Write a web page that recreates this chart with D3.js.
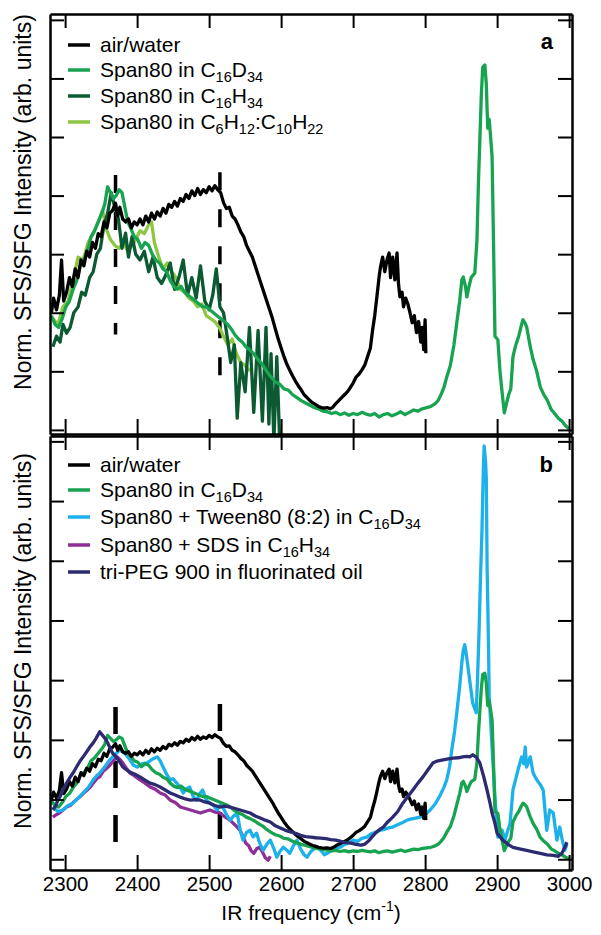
<!DOCTYPE html>
<html>
<head>
<meta charset="utf-8">
<script src="https://cdn.jsdelivr.net/npm/d3@7"></script>
<style>
  body { margin: 0; background: #fff; }
  svg { display: block; font-family: "Liberation Sans", Arial, sans-serif; }
</style>
</head>
<body>
<svg id="chart" width="601" height="935"></svg>
<script>
// Shared x ticks (cm-1), unlabeled y ticks per panel
const xTicks = [2300, 2400, 2500, 2600, 2700, 2800, 2900, 3000];
const yTicksA = [0, 1, 2, 3, 4, 5, 6, 7];
const yTicksB = [0, 2, 4, 6, 8, 10, 12, 14];

// Spectra as [frequency, normalized intensity]
const airWater = [
  [2281, 2.0], [2284, 2.25], [2288, 2.05], [2292, 2.3], [2295, 2.9], [2298, 2.2], [2302, 2.35], [2306, 2.6],
  [2310, 2.45], [2314, 2.75], [2318, 2.6], [2322, 2.9], [2326, 2.8], [2330, 3.05], [2334, 2.95], [2338, 3.2],
  [2342, 3.1], [2346, 3.35], [2350, 3.3], [2354, 3.55], [2358, 3.45], [2362, 3.7], [2366, 3.75], [2370, 3.87],
  [2373, 3.65], [2376, 3.8], [2380, 3.6], [2384, 3.55], [2388, 3.6], [2392, 3.45], [2396, 3.55], [2400, 3.5],
  [2404, 3.6], [2408, 3.5], [2412, 3.65], [2416, 3.55], [2420, 3.7], [2424, 3.6], [2428, 3.72], [2432, 3.65],
  [2436, 3.78], [2440, 3.7], [2444, 3.85], [2448, 3.8], [2452, 3.9], [2456, 3.82], [2460, 3.95], [2464, 3.9],
  [2468, 4.02], [2472, 3.95], [2476, 4.08], [2480, 4.0], [2484, 4.12], [2488, 4.02], [2492, 4.1], [2496, 4.05],
  [2500, 4.15], [2504, 4.08], [2508, 4.17], [2512, 4.1], [2516, 4.05], [2520, 3.88], [2524, 3.78], [2528, 3.8],
  [2532, 3.65], [2536, 3.6], [2540, 3.5], [2544, 3.38], [2548, 3.3], [2552, 3.15], [2556, 3.05], [2560, 2.95],
  [2564, 2.8], [2568, 2.65], [2572, 2.5], [2576, 2.35], [2580, 2.2], [2584, 2.05], [2588, 1.9], [2592, 1.72],
  [2596, 1.55], [2600, 1.4], [2604, 1.25], [2608, 1.12], [2612, 1.02], [2616, 0.92], [2620, 0.83], [2624, 0.75],
  [2628, 0.68], [2632, 0.6], [2636, 0.55], [2640, 0.5], [2644, 0.46], [2648, 0.43], [2652, 0.4], [2656, 0.38],
  [2660, 0.37], [2664, 0.38], [2668, 0.36], [2672, 0.39], [2676, 0.45], [2680, 0.5], [2684, 0.55], [2688, 0.6],
  [2692, 0.65], [2696, 0.72], [2700, 0.8], [2704, 0.9], [2708, 0.95], [2712, 1.02], [2716, 1.1], [2720, 1.25],
  [2724, 1.4], [2727, 1.7], [2730, 1.95], [2733, 2.27], [2736, 2.6], [2738, 2.78], [2741, 2.95], [2744, 2.7],
  [2747, 2.9], [2750, 3.02], [2752, 2.6], [2755, 2.95], [2758, 2.56], [2761, 3.02], [2763, 2.5], [2765, 2.27],
  [2768, 2.35], [2770, 2.1], [2773, 2.25], [2776, 2.15], [2779, 2.0], [2782, 1.83], [2785, 1.95], [2788, 1.66],
  [2791, 1.85], [2794, 1.5], [2796, 1.75], [2798, 1.37], [2800, 1.88], [2801, 1.31]
];

const span80D = [
  [2281, 1.95], [2286, 1.8], [2291, 1.75], [2296, 1.9], [2301, 2.1], [2306, 2.2], [2311, 2.4], [2316, 2.55],
  [2321, 2.8], [2326, 2.9], [2331, 3.05], [2336, 3.3], [2341, 3.4], [2346, 3.55], [2351, 3.7], [2355, 3.85],
  [2359, 4.15], [2363, 4.05], [2367, 3.95], [2371, 4.0], [2375, 4.1], [2379, 4.05], [2383, 3.8], [2387, 3.55],
  [2391, 3.45], [2396, 3.3], [2401, 3.25], [2406, 3.1], [2411, 3.2], [2416, 3.15], [2421, 3.0], [2426, 2.9],
  [2431, 2.85], [2436, 2.75], [2441, 2.7], [2446, 2.55], [2451, 2.45], [2456, 2.4], [2461, 2.45], [2466, 2.35],
  [2471, 2.3], [2476, 2.25], [2481, 2.2], [2486, 2.15], [2491, 2.1], [2496, 2.1], [2501, 2.05], [2506, 2.0],
  [2511, 1.95], [2516, 1.9], [2521, 1.85], [2526, 1.8], [2531, 1.72], [2536, 1.62], [2541, 1.55], [2546, 1.5],
  [2551, 1.42], [2556, 1.37], [2562, 1.3], [2568, 1.2], [2574, 1.12], [2580, 1.0], [2586, 0.9], [2592, 0.82],
  [2598, 0.78], [2604, 0.7], [2610, 0.68], [2616, 0.6], [2622, 0.55], [2628, 0.5], [2634, 0.46], [2640, 0.42],
  [2646, 0.38], [2652, 0.36], [2658, 0.32], [2664, 0.31], [2670, 0.28], [2676, 0.3], [2682, 0.26], [2688, 0.29],
  [2694, 0.25], [2700, 0.28], [2706, 0.26], [2712, 0.3], [2718, 0.27], [2724, 0.25], [2730, 0.28], [2736, 0.22],
  [2742, 0.26], [2748, 0.28], [2754, 0.24], [2760, 0.27], [2766, 0.31], [2772, 0.26], [2778, 0.3], [2784, 0.34],
  [2790, 0.32], [2796, 0.36], [2802, 0.38], [2808, 0.4], [2814, 0.45], [2818, 0.5], [2822, 0.6], [2826, 0.72],
  [2830, 0.9], [2835, 1.1], [2840, 1.45], [2844, 1.83], [2848, 2.2], [2851, 2.56], [2853, 2.61], [2856, 2.45],
  [2858, 2.27], [2861, 2.45], [2864, 2.6], [2869, 2.68], [2872, 3.24], [2874, 4.2], [2876, 4.95], [2878, 5.7],
  [2880, 6.19], [2883, 6.23], [2885, 5.9], [2886, 5.5], [2887, 5.15], [2889, 5.3], [2891, 5.0], [2893, 4.66],
  [2895, 3.2], [2897, 1.6], [2901, 1.54], [2904, 1.0], [2907, 0.63], [2910, 0.29], [2913, 0.45], [2916, 0.6],
  [2919, 0.7], [2922, 1.25], [2926, 1.45], [2930, 1.6], [2934, 1.8], [2936, 1.88], [2939, 1.82], [2941, 1.76],
  [2946, 1.42], [2950, 1.2], [2955, 1.0], [2960, 0.73], [2965, 0.6], [2970, 0.5], [2975, 0.35], [2980, 0.28],
  [2985, 0.2], [2990, 0.15], [2995, 0.07], [3000, 0.02]
];

const span80H = [
  [2283, 1.42], [2288, 1.6], [2293, 1.5], [2297, 1.8], [2302, 1.65], [2307, 1.75], [2312, 2.0], [2318, 2.1],
  [2323, 2.35], [2328, 2.3], [2334, 2.6], [2339, 2.7], [2344, 3.0], [2349, 3.1], [2354, 3.5], [2359, 3.7],
  [2364, 4.05], [2369, 3.8], [2374, 3.6], [2379, 3.1], [2384, 3.36], [2388, 2.95], [2393, 3.3], [2398, 3.0],
  [2404, 2.9], [2410, 3.05], [2416, 2.7], [2422, 2.95], [2428, 2.6], [2434, 2.5], [2440, 2.65], [2446, 2.85],
  [2452, 2.4], [2458, 2.6], [2464, 2.9], [2470, 2.3], [2476, 2.6], [2482, 2.25], [2488, 2.8], [2494, 2.2],
  [2500, 2.05], [2505, 2.3], [2510, 2.75], [2515, 2.1], [2520, 2.0], [2525, 1.6], [2530, 1.15], [2535, 1.45],
  [2539, 0.2], [2544, 1.15], [2550, 0.65], [2556, 1.75], [2562, 0.3], [2568, 1.7], [2574, 0.15], [2579, 1.75],
  [2583, 0.1], [2586, 1.3], [2590, -0.2], [2594, 1.25], [2598, -0.2]
];

const span80Mix = [
  [2283, 1.9], [2290, 1.8], [2297, 2.1], [2304, 2.2], [2311, 2.55], [2318, 2.95], [2325, 2.9], [2332, 3.2],
  [2339, 3.35], [2346, 3.55], [2352, 3.75], [2358, 3.4], [2363, 3.25], [2369, 3.15], [2375, 3.1], [2381, 3.2],
  [2387, 3.05], [2393, 3.15], [2398, 3.25], [2404, 3.4], [2410, 3.35], [2416, 3.5], [2420, 3.55], [2424, 3.2],
  [2430, 2.95], [2436, 2.75], [2442, 2.85], [2448, 2.7], [2454, 2.6], [2460, 2.4], [2466, 2.35], [2472, 2.25],
  [2478, 2.2], [2484, 2.1], [2490, 2.15], [2496, 1.95], [2502, 1.9], [2508, 1.85], [2514, 1.75], [2520, 1.6],
  [2526, 1.45], [2532, 1.55], [2538, 1.3], [2544, 1.15], [2550, 1.1], [2556, 1.0]
];

const span80Tween = [
  [2283, 1.75], [2290, 1.6], [2297, 1.65], [2304, 1.8], [2311, 1.88], [2318, 2.05], [2325, 2.22], [2332, 2.4],
  [2339, 2.66], [2344, 2.8], [2348, 2.89], [2355, 3.1], [2362, 3.33], [2369, 3.5], [2376, 3.66], [2383, 3.55],
  [2390, 3.33], [2395, 3.15], [2400, 3.09], [2407, 3.2], [2414, 3.23], [2421, 3.35], [2428, 3.43], [2432, 3.3],
  [2436, 3.09], [2441, 2.85], [2446, 2.66], [2450, 2.7], [2455, 2.55], [2460, 2.4], [2464, 2.22], [2468, 2.35],
  [2473, 2.42], [2478, 2.1], [2483, 1.98], [2487, 2.2], [2491, 2.32], [2496, 2.0], [2501, 1.88], [2506, 1.8],
  [2511, 1.65], [2515, 1.8], [2519, 1.75], [2524, 1.5], [2529, 1.31], [2534, 1.45], [2539, 1.55], [2543, 1.0],
  [2547, 0.64], [2552, 0.9], [2557, 0.97], [2561, 0.75], [2566, 0.87], [2570, 0.55], [2575, 0.3], [2580, 0.5],
  [2585, 0.64], [2590, 0.35], [2594, 0.07], [2598, 0.25], [2603, 0.4], [2608, 0.3], [2612, 0.2], [2617, 0.45],
  [2622, 0.64], [2627, 0.35], [2632, 0.15], [2636, 0.07], [2641, 0.25], [2646, 0.35], [2650, 0.4], [2655, 0.3],
  [2660, 0.15], [2664, 0.2], [2670, 0.3], [2676, 0.35], [2682, 0.4], [2688, 0.5], [2694, 0.55], [2700, 0.64],
  [2706, 0.6], [2712, 0.7], [2719, 0.74], [2725, 0.85], [2731, 0.9], [2737, 0.97], [2743, 1.0], [2749, 1.05],
  [2755, 1.08], [2761, 1.15], [2768, 1.22], [2775, 1.31], [2781, 1.35], [2787, 1.38], [2793, 1.41], [2800, 1.5],
  [2807, 1.65], [2814, 1.85], [2821, 2.15], [2826, 2.4], [2830, 2.66], [2834, 3.1], [2837, 3.66], [2841, 4.3],
  [2844, 4.91], [2848, 5.8], [2851, 6.59], [2853, 7.0], [2855, 7.19], [2857, 6.9], [2860, 6.35], [2863, 5.8],
  [2866, 5.24], [2871, 4.91], [2873, 6.2], [2875, 7.7], [2877, 9.5], [2879, 11.06], [2881, 13.2], [2882, 13.85],
  [2884, 13.3], [2885, 12.74], [2886, 9.95], [2888, 7.2], [2889, 5.45], [2893, 3.76], [2897, 2.08], [2901, 0.74],
  [2904, 0.9], [2907, 0.97], [2911, 0.64], [2914, 0.9], [2918, 1.21], [2922, 2.32], [2926, 2.7], [2929, 2.99],
  [2934, 3.43], [2937, 3.2], [2939, 3.76], [2941, 3.09], [2944, 3.3], [2946, 3.43], [2950, 2.89], [2955, 2.66],
  [2960, 2.5], [2964, 2.32], [2967, 1.5], [2969, 0.97], [2971, 1.3], [2973, 1.65], [2978, 1.55], [2981, 1.0],
  [2983, 0.64], [2987, 1.08], [2990, 0.7], [2994, 0.3], [2997, 0.5]
];

const span80SDS = [
  [2283, 1.41], [2288, 1.5], [2292, 1.55], [2297, 1.65], [2302, 1.75], [2307, 1.8], [2311, 1.9], [2316, 2.0],
  [2321, 2.1], [2325, 2.2], [2330, 2.3], [2335, 2.42], [2339, 2.55], [2344, 2.7], [2348, 2.76], [2353, 2.95],
  [2358, 3.05], [2362, 3.15], [2367, 3.3], [2372, 3.43], [2376, 3.35], [2380, 3.23], [2385, 3.05], [2390, 2.89],
  [2396, 2.8], [2404, 2.66], [2411, 2.55], [2418, 2.42], [2425, 2.35], [2432, 2.22], [2439, 2.15], [2446, 1.98],
  [2453, 1.9], [2460, 1.75], [2467, 1.7], [2474, 1.65], [2481, 1.6], [2488, 1.55], [2494, 1.6], [2501, 1.65],
  [2508, 1.58], [2515, 1.55], [2522, 1.42], [2529, 1.31], [2536, 1.15], [2543, 0.97], [2547, 0.75], [2551, 0.54],
  [2555, 0.45], [2558, 0.3], [2562, 0.2], [2566, 0.35], [2570, 0.4], [2574, 0.25], [2578, 0.05], [2582, -0.03],
  [2585, 0.1]
];

const triPEG = [
  [2283, 1.65], [2287, 1.8], [2290, 1.98], [2294, 2.15], [2297, 2.32], [2302, 2.55], [2307, 2.75], [2311, 2.89],
  [2316, 3.1], [2321, 3.3], [2325, 3.43], [2330, 3.6], [2334, 3.75], [2339, 3.9], [2343, 4.05], [2348, 4.27],
  [2352, 4.15], [2357, 4.0], [2362, 3.75], [2366, 3.55], [2371, 3.43], [2376, 3.25], [2380, 3.09], [2385, 3.0],
  [2390, 2.92], [2397, 2.85], [2404, 2.76], [2411, 2.65], [2418, 2.55], [2425, 2.5], [2432, 2.42], [2439, 2.32],
  [2446, 2.22], [2453, 2.15], [2460, 2.08], [2467, 2.02], [2474, 1.98], [2481, 2.0], [2488, 1.98], [2494, 1.92],
  [2501, 1.88], [2508, 1.8], [2515, 1.75], [2522, 1.78], [2529, 1.75], [2536, 1.7], [2543, 1.65], [2550, 1.6],
  [2557, 1.55], [2564, 1.45], [2571, 1.38], [2578, 1.31], [2585, 1.25], [2592, 1.12], [2599, 1.05], [2606, 0.97],
  [2613, 0.92], [2620, 0.87], [2627, 0.8], [2634, 0.76], [2641, 0.74], [2648, 0.72], [2655, 0.71], [2662, 0.69],
  [2669, 0.66], [2676, 0.64], [2683, 0.6], [2690, 0.56], [2697, 0.54], [2704, 0.5], [2711, 0.47], [2716, 0.5],
  [2721, 0.6], [2726, 0.74], [2732, 0.9], [2737, 1.0], [2742, 1.08], [2748, 1.25], [2755, 1.41], [2762, 1.6],
  [2769, 1.88], [2776, 2.1], [2783, 2.32], [2790, 2.55], [2797, 2.76], [2804, 3.0], [2811, 3.23], [2818, 3.3],
  [2825, 3.33], [2832, 3.36], [2839, 3.39], [2846, 3.4], [2852, 3.43], [2858, 3.45], [2862, 3.43], [2866, 3.5],
  [2871, 3.42], [2876, 3.23], [2881, 2.8], [2886, 2.32], [2890, 1.9], [2893, 1.55], [2897, 1.2], [2900, 0.87],
  [2904, 0.75], [2908, 0.64], [2915, 0.5], [2922, 0.4], [2931, 0.35], [2941, 0.3], [2950, 0.25], [2960, 0.2],
  [2969, 0.15], [2978, 0.13], [2985, 0.1], [2990, 0.2], [2994, 0.4], [2997, 0.57]
];

// Dashed guide lines: frequency and intensity span in each panel
const guideFreqs = [2370, 2515];
const guideSpanA = [[1.63, 4.35], [0.85, 4.4]];
const guideSpanB = [[0.45, 5.1], [0.6, 5.2]];

// Legend entries ("_n" marks a subscript)
const legendA = [
  { name: 'air/water', color: '#000000' },
  { name: 'Span80 in C_16D_34', color: '#17a34f' },
  { name: 'Span80 in C_16H_34', color: '#0c5a31' },
  { name: 'Span80 in C_6H_12:C_10H_22', color: '#8dc641' }
];
const legendB = [
  { name: 'air/water', color: '#000000' },
  { name: 'Span80 in C_16D_34', color: '#17a34f' },
  { name: 'Span80 + Tween80 (8:2) in C_16D_34', color: '#1db1ec' },
  { name: 'Span80 + SDS in C_16H_34', color: '#8e2f97' },
  { name: 'tri-PEG 900 in fluorinated oil', color: '#2c2a70' }
];

const svg = d3.select('#chart');
const left = 50, right = 572;

const x = d3.scaleLinear().domain([2279, 3004]).range([left, right]);

// Panel layout
const panels = [
  {
    key: 'a', top: 14, bottom: 434, yDomain: [-0.07, 7.1], yTicks: yTicksA,
    draw: [[span80Mix, '#8dc641'], [span80H, '#0c5a31'], [span80D, '#17a34f'], [airWater, '#000000']],
    guides: guideSpanA, dash: '18,19', dashWidth: 3.5,
    legend: legendA, legendY: [45, 70, 96, 122], labelY: 202, letterY: 49
  },
  {
    key: 'b', top: 436, bottom: 870, yDomain: [-0.36, 14.18], yTicks: yTicksB,
    draw: [[span80SDS, '#8e2f97'], [span80Tween, '#1db1ec'], [span80D, '#17a34f'], [airWater, '#000000'], [triPEG, '#2c2a70']],
    guides: guideSpanB, dash: '27,27', dashWidth: 4.5,
    legend: legendB, legendY: [465, 490, 517, 545, 572], labelY: 641, letterY: 472
  }
];

// Write a label with subscripts into a text element
function writeLabel(textSel, label, subShift) {
    const parts = label.split(/(_\d+)/).filter(s => s.length);
    let shifted = false;
    parts.forEach(p => {
        const t = textSel.append('tspan');
        if (p.startsWith('_')) {
            t.text(p.slice(1)).attr('font-size', 14.5).attr('dy', shifted ? 0 : subShift);
            shifted = true;
        } else {
            t.text(p).attr('dy', shifted ? -subShift : 0);
            shifted = false;
        }
    });
}

panels.forEach(p => {
    const y = d3.scaleLinear().domain(p.yDomain).range([p.bottom, p.top]);

    const clipId = 'clip-' + p.key;
    svg.append('clipPath').attr('id', clipId)
        .append('rect')
        .attr('x', left).attr('y', p.top)
        .attr('width', right - left).attr('height', p.bottom - p.top);

    const plot = svg.append('g').attr('clip-path', `url(#${clipId})`);

    // Dashed guides
    plot.selectAll('.guide')
        .data(guideFreqs)
        .enter()
        .append('line')
        .attr('x1', d => x(d)).attr('x2', d => x(d))
        .attr('y1', (d, i) => y(p.guides[i][1]))
        .attr('y2', (d, i) => y(p.guides[i][0]))
        .attr('stroke', '#000')
        .attr('stroke-width', p.dashWidth)
        .attr('stroke-dasharray', p.dash);

    // Spectra
    const line = d3.line().x(d => x(d[0])).y(d => y(d[1]));
    plot.selectAll('.spectrum')
        .data(p.draw)
        .enter()
        .append('path')
        .attr('d', d => line(d[0]))
        .attr('fill', 'none')
        .attr('stroke', d => d[1])
        .attr('stroke-width', 3.3)
        .attr('stroke-linejoin', 'round');

    // Axes with inward ticks
    const axes = [
        d3.axisTop(x).tickValues(xTicks).tickFormat('').tickSizeInner(-14).tickSizeOuter(0),
        d3.axisBottom(x).tickValues(xTicks).tickSizeInner(-15).tickSizeOuter(0).tickPadding(6)
            .tickFormat(p.key === 'b' ? d3.format('d') : '')
    ];
    svg.append('g').attr('transform', `translate(0,${p.top})`).call(axes[0]);
    svg.append('g').attr('transform', `translate(0,${p.bottom})`).call(axes[1]);
    svg.append('g').attr('transform', `translate(${left},0)`)
        .call(d3.axisLeft(y).tickValues(p.yTicks).tickFormat('').tickSizeInner(-14).tickSizeOuter(0));
    svg.append('g').attr('transform', `translate(${right},0)`)
        .call(d3.axisRight(y).tickValues(p.yTicks).tickFormat('').tickSizeInner(-14).tickSizeOuter(0));

    // Legend
    const legend = svg.append('g');
    p.legend.forEach((item, i) => {
        const ly = p.legendY[i];
        legend.append('line')
            .attr('x1', 68).attr('x2', 90)
            .attr('y1', ly).attr('y2', ly)
            .attr('stroke', item.color)
            .attr('stroke-width', 3.5);
        const t = legend.append('text')
            .attr('x', 100).attr('y', ly + 7)
            .attr('font-size', 21)
            .attr('fill', '#000');
        writeLabel(t, item.name, 5);
    });

    // Panel letter
    svg.append('text')
        .attr('x', 553).attr('y', p.letterY)
        .attr('text-anchor', 'end')
        .attr('font-size', 22)
        .attr('font-weight', 'bold')
        .text(p.key);

    // Y axis title
    svg.append('text')
        .attr('transform', `translate(23,${p.labelY}) rotate(-90)`)
        .attr('text-anchor', 'middle')
        .attr('dy', '0.35em')
        .attr('font-size', 23)
        .text('Norm. SFS/SFG Intensity (arb. units)');
});

// Axis styling
svg.selectAll('.domain').attr('stroke', '#000').attr('stroke-width', 2.5);
svg.selectAll('.tick line').attr('stroke', '#000').attr('stroke-width', 2);
svg.selectAll('.tick text')
    .attr('font-size', 20.5)
    .attr('font-family', '"Liberation Sans", Arial, sans-serif')
    .attr('fill', '#000');

// X axis title
const xTitle = svg.append('text')
    .attr('x', 311).attr('y', 920)
    .attr('text-anchor', 'middle')
    .attr('font-size', 21);
xTitle.append('tspan').text('IR frequency (cm');
xTitle.append('tspan').text('-1').attr('font-size', 14).attr('dy', -9);
xTitle.append('tspan').text(')').attr('dy', 9);
</script>
</body>
</html>
